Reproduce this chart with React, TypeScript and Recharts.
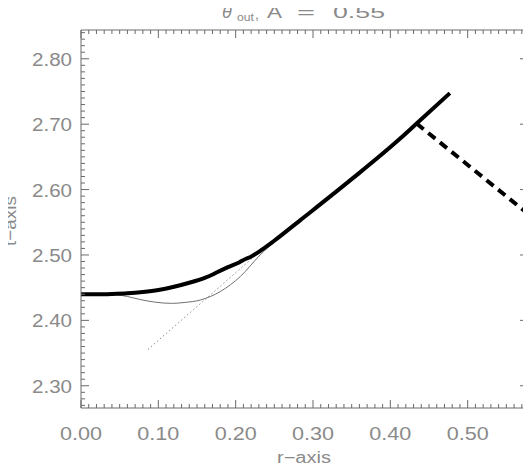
import React from 'react';
import { LineChart, Line, XAxis, YAxis } from 'recharts';

// ---- data ----
const X_MAJOR = [0, 0.1, 0.2, 0.3, 0.4, 0.5];
const X_LABELS = ['0.00', '0.10', '0.20', '0.30', '0.40', '0.50'];
const Y_MAJOR = [2.3, 2.4, 2.5, 2.6, 2.7, 2.8];
const Y_LABELS = ['2.30', '2.40', '2.50', '2.60', '2.70', '2.80'];
const X_DOMAIN: [number, number] = [0, 0.578];
const Y_DOMAIN: [number, number] = [2.266, 2.844];

const X_TICKS: number[] = [];
for (let i = 0; i <= 57; i++) X_TICKS.push(i / 100);
const Y_TICKS: number[] = [];
for (let i = 227; i <= 284; i++) Y_TICKS.push(i / 100);

// thick solid curve
const thickR = [0, 0.02, 0.04, 0.06, 0.08, 0.10, 0.119, 0.14, 0.16, 0.171, 0.176, 0.19, 0.205, 0.212, 0.219, 0.235, 0.249, 0.2833, 0.348, 0.4127, 0.434, 0.477];
const thickT = [2.440, 2.440, 2.4405, 2.4415, 2.4435, 2.4465, 2.451, 2.4575, 2.465, 2.4705, 2.4735, 2.4815, 2.489, 2.4935, 2.497, 2.509, 2.521, 2.553, 2.614, 2.678, 2.701, 2.7475];
// thin gray curve
const thinR = [0, 0.03, 0.046, 0.06, 0.076, 0.095, 0.117, 0.135, 0.154, 0.18, 0.206, 0.2316, 0.245];
const thinT = [2.440, 2.440, 2.439, 2.4365, 2.432, 2.428, 2.426, 2.4275, 2.431, 2.444, 2.467, 2.500, 2.515];
// dotted straight line
const dotR = [0.087, 0.235];
const dotT = [2.356, 2.509];
// thick dashed line
const dashR = [0.434, 0.579];
const dashT = [2.701, 2.562];

const zip = (r: number[], t: number[]) => r.map((v, i) => ({ r: v, t: t[i] }));
const thickData = zip(thickR, thickT);
const thinData = zip(thinR, thinT);
const dotData = zip(dotR, dotT);
const dashData = zip(dashR, dashT);

const AXIS_COLOR = '#6a6a6a';
const TEXT_COLOR = '#8a8a8a';
const FONT = '"Liberation Sans", Arial, sans-serif';
const MAJOR_LEN = 8;
const MINOR_LEN = 4;

const majorIndex = (v: number, majors: number[]) =>
  majors.findIndex((m) => Math.abs(m - v) < 1e-6);

const LeftTick = (props: any) => {
  const { x, y, payload } = props;
  const idx = majorIndex(payload.value, Y_MAJOR);
  const len = idx >= 0 ? MAJOR_LEN : MINOR_LEN;
  return (
    <g>
      <line x1={x} x2={x + len} y1={y} y2={y} stroke={AXIS_COLOR} strokeWidth={1} />
      {idx >= 0 && (
        <text x={x - 49} y={y + 1} textAnchor="start" dominantBaseline="central" textLength={40} lengthAdjust="spacingAndGlyphs"
          fontFamily={FONT} fontSize={18} fill={TEXT_COLOR}>{Y_LABELS[idx]}</text>
      )}
    </g>
  );
};
const RightTick = (props: any) => {
  const { x, y, payload } = props;
  const idx = majorIndex(payload.value, Y_MAJOR);
  const len = idx >= 0 ? MAJOR_LEN : MINOR_LEN;
  return <line x1={x} x2={x - len} y1={y} y2={y} stroke={AXIS_COLOR} strokeWidth={1} />;
};
const BottomTick = (props: any) => {
  const { x, y, payload } = props;
  const idx = majorIndex(payload.value, X_MAJOR);
  const len = idx >= 0 ? MAJOR_LEN : MINOR_LEN;
  return (
    <g>
      <line x1={x} x2={x} y1={y} y2={y - len} stroke={AXIS_COLOR} strokeWidth={1} />
      {idx >= 0 && (
        <text x={x - 21} y={y + 26} textAnchor="start" dominantBaseline="central" textLength={42} lengthAdjust="spacingAndGlyphs"
          fontFamily={FONT} fontSize={18} fill={TEXT_COLOR}>{X_LABELS[idx]}</text>
      )}
    </g>
  );
};
const TopTick = (props: any) => {
  const { x, y, payload } = props;
  const idx = majorIndex(payload.value, X_MAJOR);
  const len = idx >= 0 ? MAJOR_LEN : MINOR_LEN;
  return <line x1={x} x2={x} y1={y} y2={y + len} stroke={AXIS_COLOR} strokeWidth={1} />;
};

// the chart box sits at the body's 8px margin; page coords = local + 8
export default function App() {
  return (
    <div style={{ position: 'relative', width: 523, height: 458, background: '#fff' }}>
      <LineChart width={523} height={458} margin={{ top: 0, right: 0, bottom: 0, left: 0 }}>
        <XAxis xAxisId="b" orientation="bottom" type="number" dataKey="r" domain={X_DOMAIN} ticks={X_TICKS}
          allowDataOverflow interval={0} height={58} tickSize={0} tickMargin={0} tickLine={false}
          axisLine={{ stroke: AXIS_COLOR }} tick={<BottomTick />} />
        <XAxis xAxisId="t" orientation="top" type="number" dataKey="r" domain={X_DOMAIN} ticks={X_TICKS}
          allowDataOverflow interval={0} height={22} tickSize={0} tickMargin={0} tickLine={false}
          axisLine={{ stroke: AXIS_COLOR }} tick={<TopTick />} />
        <YAxis yAxisId="l" orientation="left" type="number" domain={Y_DOMAIN} ticks={Y_TICKS}
          allowDataOverflow interval={0} width={73} tickSize={0} tickMargin={0} tickLine={false}
          axisLine={{ stroke: AXIS_COLOR }} tick={<LeftTick />} />
        <YAxis yAxisId="r" orientation="right" type="number" domain={Y_DOMAIN} ticks={Y_TICKS}
          allowDataOverflow interval={0} width={3} tickSize={0} tickMargin={0} tickLine={false}
          axisLine={{ stroke: AXIS_COLOR }} tick={<RightTick />} />
        <Line xAxisId="b" yAxisId="l" data={dotData} dataKey="t" type="linear" stroke="#555" strokeWidth={1}
          strokeDasharray="1 3" dot={false} activeDot={false} isAnimationActive={false} />
        <Line xAxisId="b" yAxisId="l" data={thinData} dataKey="t" type="monotone" stroke="#707070" strokeWidth={1}
          dot={false} activeDot={false} isAnimationActive={false} />
        <Line xAxisId="b" yAxisId="l" data={dashData} dataKey="t" type="linear" stroke="#000" strokeWidth={4}
          strokeDasharray="9 6" dot={false} activeDot={false} isAnimationActive={false} />
        <Line xAxisId="b" yAxisId="l" data={thickData} dataKey="t" type="monotone" stroke="#000" strokeWidth={4}
          dot={false} activeDot={false} isAnimationActive={false} />
      </LineChart>
      <svg width={523} height={458} style={{ position: 'absolute', left: 0, top: 0, pointerEvents: 'none', overflow: 'visible' }}>
        <g fontFamily={FONT} fill={TEXT_COLOR} transform="translate(-8,-8)">
          <text x={222} y={17.5} fontSize={18} fontStyle="italic">θ</text>
          <text x={237} y={20.5} fontSize={10} textLength={17} lengthAdjust="spacingAndGlyphs">out</text>
          <text x={255} y={19} fontSize={14}>,</text>
          <text x={267} y={17.5} fontSize={17} textLength={15} lengthAdjust="spacingAndGlyphs">A</text>
          <text x={297} y={17.5} fontSize={17} textLength={18} lengthAdjust="spacingAndGlyphs">=</text>
          <text x={333} y={17.5} fontSize={17} textLength={52} lengthAdjust="spacingAndGlyphs">0.55</text>
          <text x={277} y={463} fontSize={16} textLength={54} lengthAdjust="spacingAndGlyphs">r−axis</text>
          <text x={0} y={0} fontSize={17} textLength={50} lengthAdjust="spacingAndGlyphs"
            transform="translate(15.5,246) rotate(-90)">t−axis</text>
        </g>
      </svg>
    </div>
  );
}
